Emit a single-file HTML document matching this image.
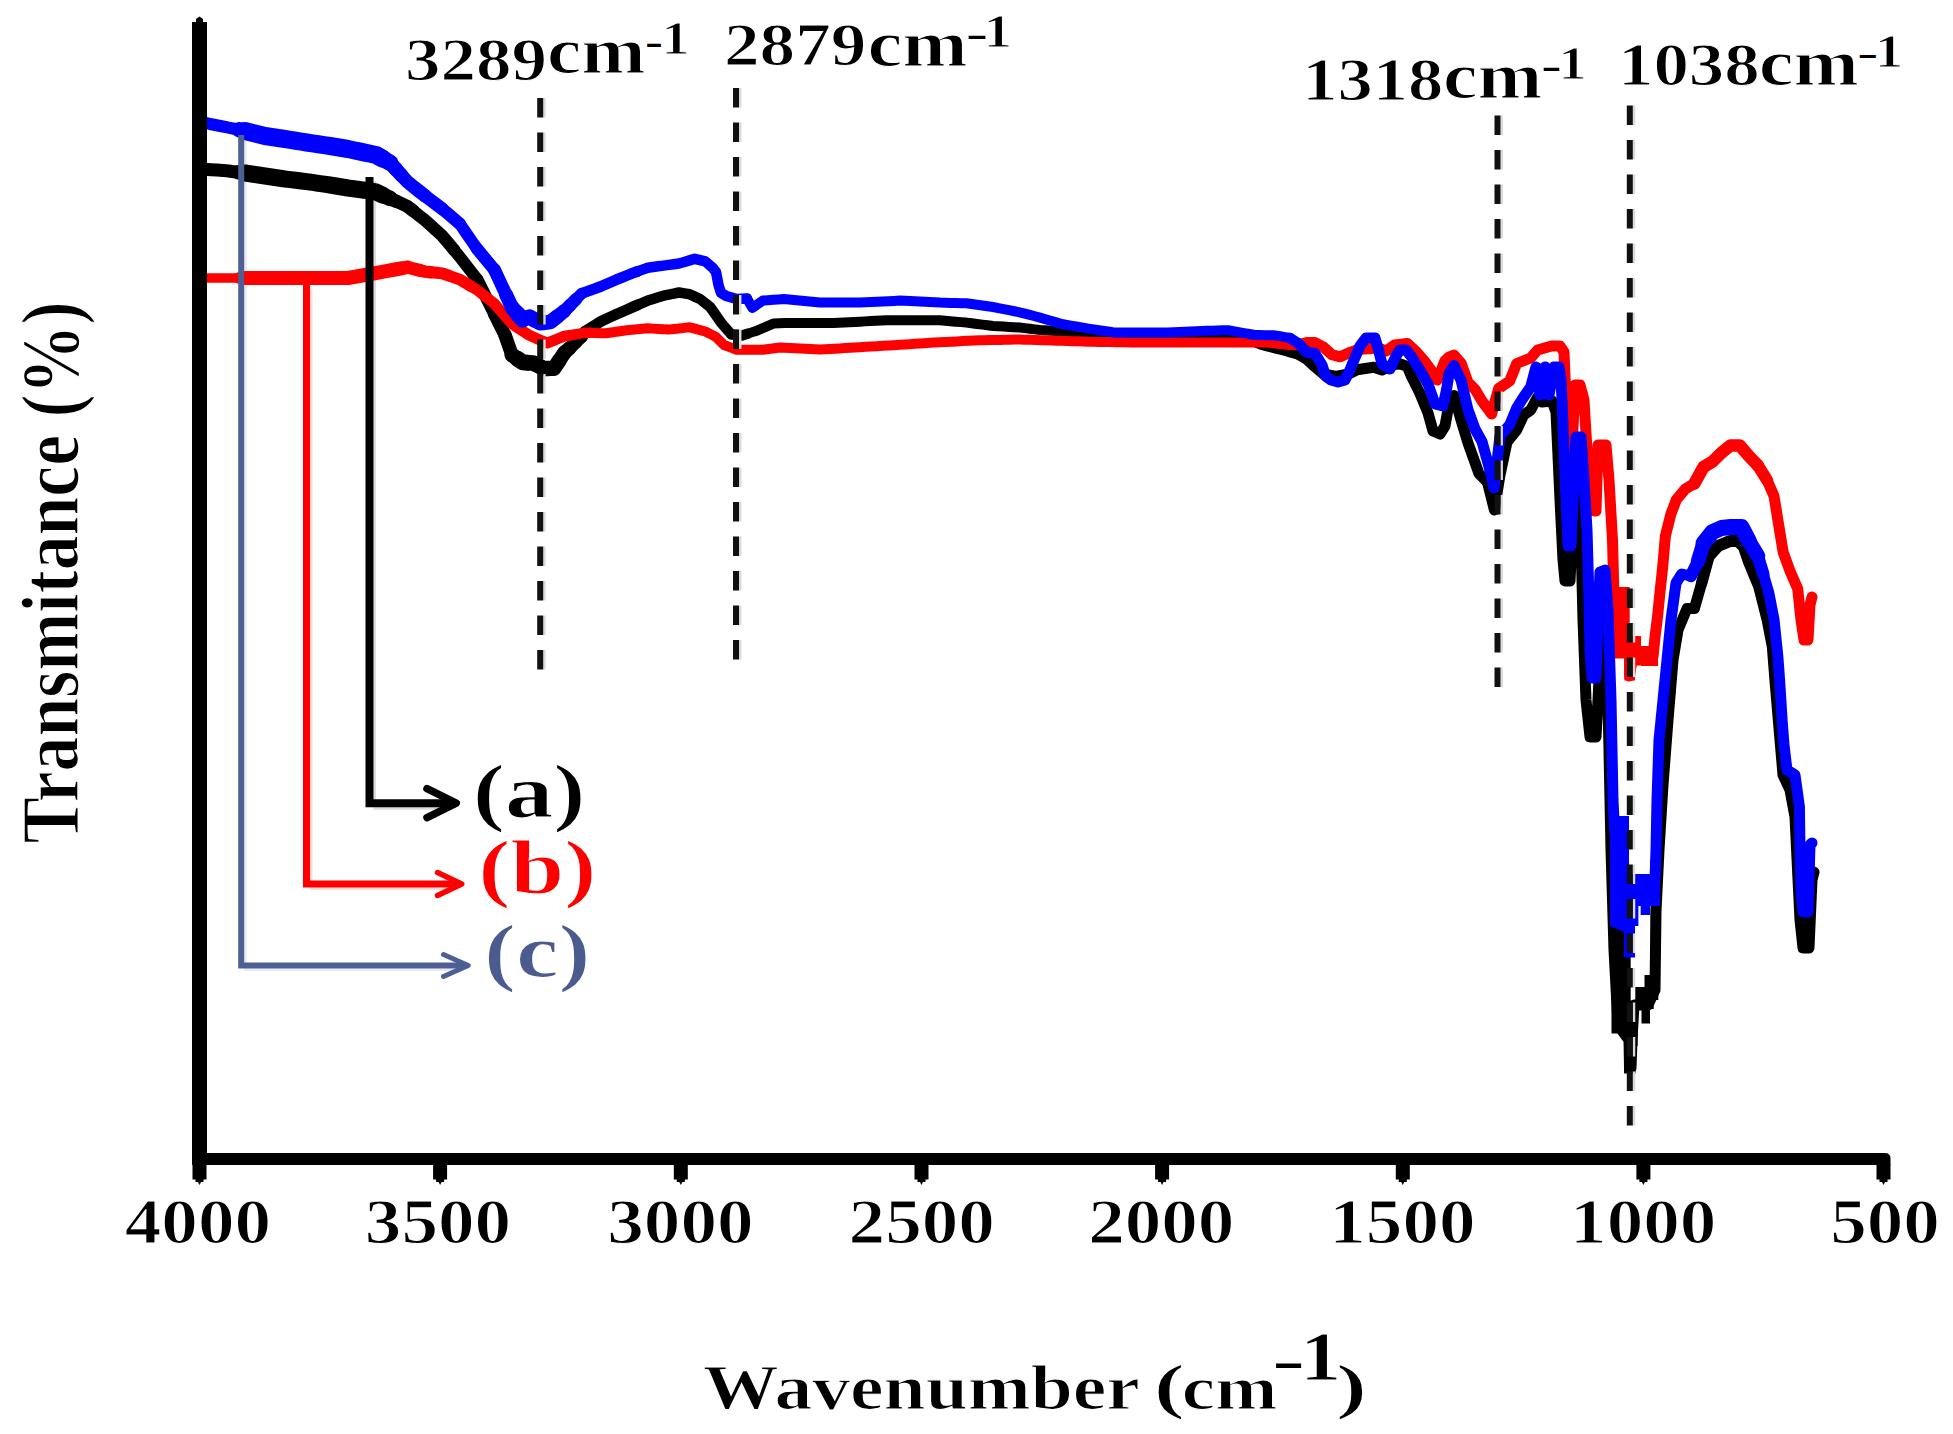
<!DOCTYPE html>
<html><head><meta charset="utf-8"><title>FTIR spectra</title>
<style>
html,body{margin:0;padding:0;background:#fff;}
body{width:1953px;height:1434px;overflow:hidden;}
svg{display:block;}
text{font-family:"Liberation Serif","Times New Roman",serif;font-weight:bold;font-size:100px;stroke:#fff;stroke-width:1.3px;vector-effect:non-scaling-stroke;}
</style></head><body>
<svg width="1953" height="1434" viewBox="0 0 1953 1434">
<rect width="1953" height="1434" fill="#fff"/>
<polyline fill="none" stroke="#dcdcdc" stroke-width="2.6" points="374.7,181.0 374.7,808.4 448.0,808.4"/>
<polyline fill="none" stroke="#ffd8d8" stroke-width="2.6" points="311.2,289.0 311.2,888.7 452.5,888.7"/>
<polyline fill="none" stroke="#e6e9f1" stroke-width="2.6" points="245.4,139.0 245.4,969.7 458.7,969.7"/>
<polyline fill="none" stroke="#000" stroke-width="13" stroke-linejoin="round" stroke-linecap="round" points="199,169 205,169.35 211,169.7 217,170.05 223,170.4 228.5,171.05 234,171.7 239.5,172.35"/>
<polyline fill="none" stroke="#000" stroke-width="15" stroke-linejoin="round" stroke-linecap="round" points="239.5,172.35 245,173"/>
<polyline fill="none" stroke="#000" stroke-width="17" stroke-linejoin="round" stroke-linecap="round" points="245,173 250,173.75 255,174.5 260,175.25 265,176 270,176.75 275,177.5 280,178.25 285,179 290.4,179.65 295.8,180.3 301.2,180.95 306.6,181.6 312.45,182.45 318.3,183.3 324.15,184.15 330,185 336,186 342,187 348,188 353.5,188.75 359,189.5 364.5,190.25 370,191 376,192 383,195.2"/>
<polyline fill="none" stroke="#000" stroke-width="15.5" stroke-linejoin="round" stroke-linecap="round" points="383,195.2 390,198.4"/>
<polyline fill="none" stroke="#000" stroke-width="13.5" stroke-linejoin="round" stroke-linecap="round" points="390,198.4 395.8,201.03"/>
<polyline fill="none" stroke="#000" stroke-width="13" stroke-linejoin="round" stroke-linecap="round" points="395.8,201.03 401.6,203.67 407.4,206.3 413.23,210.93"/>
<polyline fill="none" stroke="#000" stroke-width="12.5" stroke-linejoin="round" stroke-linecap="round" points="413.23,210.93 419.07,215.57 424.9,220.2 430.7,225.43 436.5,230.67 442.3,235.9 448.1,242.87 453.9,249.83"/>
<polyline fill="none" stroke="#000" stroke-width="12" stroke-linejoin="round" stroke-linecap="round" points="453.9,249.83 459.7,256.8 465.53,264.37 471.37,271.93 477.2,279.5"/>
<polyline fill="none" stroke="#000" stroke-width="12.5" stroke-linejoin="round" stroke-linecap="round" points="477.2,279.5 483,291.13 488.8,302.77 494.6,314.4"/>
<polyline fill="none" stroke="#000" stroke-width="13" stroke-linejoin="round" stroke-linecap="round" points="494.6,314.4 499.8,324.7 505,335"/>
<polyline fill="none" stroke="#000" stroke-width="13.5" stroke-linejoin="round" stroke-linecap="round" points="505,335 512,355"/>
<polyline fill="none" stroke="#000" stroke-width="15" stroke-linejoin="round" stroke-linecap="round" points="512,355 517.25,358.65"/>
<polyline fill="none" stroke="#000" stroke-width="16" stroke-linejoin="round" stroke-linecap="round" points="517.25,358.65 522.5,362.3 527.75,362.65"/>
<polyline fill="none" stroke="#000" stroke-width="15.5" stroke-linejoin="round" stroke-linecap="round" points="527.75,362.65 533,363 538.2,365.7 543.4,368.4 548.7,368.4"/>
<polyline fill="none" stroke="#000" stroke-width="15" stroke-linejoin="round" stroke-linecap="round" points="548.7,368.4 554,368.4 559.2,360.55"/>
<polyline fill="none" stroke="#000" stroke-width="14.5" stroke-linejoin="round" stroke-linecap="round" points="559.2,360.55 564.4,352.7"/>
<polyline fill="none" stroke="#000" stroke-width="14" stroke-linejoin="round" stroke-linecap="round" points="564.4,352.7 570.2,347.47"/>
<polyline fill="none" stroke="#000" stroke-width="13" stroke-linejoin="round" stroke-linecap="round" points="570.2,347.47 576,342.23"/>
<polyline fill="none" stroke="#000" stroke-width="12" stroke-linejoin="round" stroke-linecap="round" points="576,342.23 581.8,337"/>
<polyline fill="none" stroke="#000" stroke-width="11.5" stroke-linejoin="round" stroke-linecap="round" points="581.8,337 585,331.5"/>
<polyline fill="none" stroke="#000" stroke-width="11" stroke-linejoin="round" stroke-linecap="round" points="585,331.5 590.23,328.17 595.47,324.83 600.7,321.5 605.93,319.07 611.17,316.63 616.4,314.2 621.6,311.93 626.8,309.67 632,307.4 637.27,305.13"/>
<polyline fill="none" stroke="#000" stroke-width="10.5" stroke-linejoin="round" stroke-linecap="round" points="637.27,305.13 642.53,302.87 647.8,300.6 653.03,298.97 658.27,297.33 663.5,295.7 668.67,294.63 673.83,293.57 679,292.5 684.3,293.4 689.6,294.3 694.8,296.65 700,299 705.25,303.2 710.5,307.4 715.75,315 721,322.6 726.2,328.6 731.4,334.6 736.7,335.1 742,335.6 747.2,333.87"/>
<polyline fill="none" stroke="#000" stroke-width="10" stroke-linejoin="round" stroke-linecap="round" points="747.2,333.87 752.4,332.13 757.6,330.4 762.83,328.13 768.07,325.87 773.3,323.6 779.15,323.25 785,322.9 790.37,322.91 795.73,322.92 801.1,322.93 806.47,322.94 811.83,322.96 817.2,322.97 822.57,322.98 827.93,322.99 833.3,323 838.62,322.73 843.94,322.46 849.26,322.19 854.58,321.92 859.9,321.65 865.22,321.38 870.54,321.11 875.86,320.84 881.18,320.57 886.5,320.3 891.83,320.3 897.16,320.3 902.49,320.3 907.82,320.3 913.15,320.3 918.48,320.3 923.81,320.3 929.14,320.3 934.47,320.3 939.8,320.3 945.12,320.76 950.44,321.22 955.76,321.68 961.08,322.14 966.4,322.6 971.72,323.28 977.04,323.96 982.36,324.64 987.68,325.32 993,326 998.34,326.3 1003.68,326.6 1009.02,326.9 1014.36,327.2 1019.7,327.5 1024.78,328.12 1029.85,328.75 1034.92,329.38 1040,330 1045.4,330.32 1050.8,330.65 1056.2,330.98 1061.6,331.3 1066.94,331.84 1072.28,332.38 1077.62,332.92 1082.96,333.46 1088.3,334 1093.44,334.17 1098.58,334.33 1103.72,334.5 1108.87,334.67 1114.01,334.83 1119.15,335 1124.29,335.17 1129.43,335.33 1134.58,335.5 1139.72,335.67 1144.86,335.83 1150,336 1155,336.1 1160,336.2 1165,336.3 1170,336.4 1175,336.5 1180,336.6 1185,336.7 1190,336.8 1195,336.9 1200,337 1205,337.3 1210,337.6 1215,337.9 1220,338.2 1225,338.5 1230,338.8 1235,339.1 1240,339.4 1245,339.7 1250,340 1255.7,342.5 1261.4,345 1268.03,346.67 1274.67,348.33 1281.3,350 1290,352.2"/>
<polyline fill="none" stroke="#000" stroke-width="10.5" stroke-linejoin="round" stroke-linecap="round" points="1290,352.2 1298.4,354.3"/>
<polyline fill="none" stroke="#000" stroke-width="11" stroke-linejoin="round" stroke-linecap="round" points="1298.4,354.3 1306.7,359.3 1315,366.9 1323.5,374 1329.75,375.25 1336,376.5 1342.3,375.25 1348.6,374 1357,369.8 1365.3,368.5 1373.7,367.3 1382,370 1390,366 1398.8,363.5 1407.2,366.4 1411.3,376 1419.7,392.8 1428,413 1433,431 1440,434 1445,426 1449,403.7 1454,395.5 1461,420 1468,443 1473.5,458.3 1479,473.6 1487.4,482 1494.4,510 1500,475 1507,442 1516.7,430 1523.7,415 1530.7,410 1537.6,397 1542,402 1547,401.5 1552,401 1556,412 1560,500 1563,560 1565,581 1570,581 1573,520 1576,470 1579,480 1581,540 1583,620 1586,700 1590,737 1596,737 1598,700 1601,640 1604,625 1607,660 1609,750 1611,850 1614,950 1618,1025 1623.5,1032.5 1629,1040 1629.5,1068 1631,1068 1632,1040 1634,1005 1641,1005 1648,1005 1655,990 1656,911 1659,850 1663,785 1668,720 1673,660 1678,630 1687,608.5 1694.4,608.5 1701.6,583.2"/>
<polyline fill="none" stroke="#000" stroke-width="11.5" stroke-linejoin="round" stroke-linecap="round" points="1701.6,583.2 1709,556"/>
<polyline fill="none" stroke="#000" stroke-width="12" stroke-linejoin="round" stroke-linecap="round" points="1709,556 1718,546 1724,543.5 1730,541 1738,541 1744,547 1748.8,561.4 1757.8,583.2"/>
<polyline fill="none" stroke="#000" stroke-width="11" stroke-linejoin="round" stroke-linecap="round" points="1757.8,583.2 1767,619.4 1772.3,646.6 1775,681 1780,740 1783,775 1790,790 1795,817 1797.5,869 1800,920 1803,948 1809,948 1812,880 1814,872"/>
<polygon fill="#000" points="1609.5,860 1609.5,955 1611.5,955 1611.5,1033.5 1624,1033.5 1624,1073.5 1635.5,1073.5 1635.5,1046 1637.6,1046 1637.6,1009 1641.5,1009 1641.5,1023.5 1650,1023.5 1650,1009 1653.7,1009 1653.7,1000 1658.3,1000 1658.3,920 1660.8,920 1660.8,860 1650.7,860 1650.7,975 1644.5,975 1644.5,987 1635.3,987 1635.3,1001 1630.7,1001 1630.7,955 1629,860"/>
<polyline fill="none" stroke="#f00" stroke-width="9.5" stroke-linejoin="round" stroke-linecap="round" points="199,278 204.08,278 209.15,278 214.23,278 219.31,278 224.38,278 229.46,278 234.54,278 239.62,278"/>
<polyline fill="none" stroke="#f00" stroke-width="12" stroke-linejoin="round" stroke-linecap="round" points="239.62,278 244.69,278"/>
<polyline fill="none" stroke="#f00" stroke-width="14" stroke-linejoin="round" stroke-linecap="round" points="244.69,278 249.77,278 254.85,278 259.92,278 265,278 270.12,278 275.25,278 280.38,278 285.5,278 290.62,278 295.75,278 300.88,278 306,278 311.25,278 316.5,278 321.75,278 327,278 332.25,278 337.5,278 342.75,278 348,278 353.6,277 359.2,276 364.8,275 370.4,274 376,273 382.33,271.83 388.67,270.67 395,269.5 401.2,268.4"/>
<polyline fill="none" stroke="#f00" stroke-width="13.5" stroke-linejoin="round" stroke-linecap="round" points="401.2,268.4 407.4,267.3"/>
<polyline fill="none" stroke="#f00" stroke-width="13" stroke-linejoin="round" stroke-linecap="round" points="407.4,267.3 413.23,268.73 419.07,270.17"/>
<polyline fill="none" stroke="#f00" stroke-width="12.5" stroke-linejoin="round" stroke-linecap="round" points="419.07,270.17 424.9,271.6 430.7,272.2"/>
<polyline fill="none" stroke="#f00" stroke-width="12" stroke-linejoin="round" stroke-linecap="round" points="430.7,272.2 436.5,272.8 442.3,273.4 448.1,275.43"/>
<polyline fill="none" stroke="#f00" stroke-width="11.5" stroke-linejoin="round" stroke-linecap="round" points="448.1,275.43 453.9,277.47 459.7,279.5 465.53,283 471.37,286.5"/>
<polyline fill="none" stroke="#f00" stroke-width="11" stroke-linejoin="round" stroke-linecap="round" points="471.37,286.5 477.2,290 483,294.63 488.8,299.27 494.6,303.9 500.4,310.6 506.2,317.3 512,324 517.83,327.77 523.67,331.53 529.5,335.3 535.33,337.9 541.17,340.5 547,343.1 552.8,340.8 558.6,338.5 564.4,336.2 569.55,335.32"/>
<polyline fill="none" stroke="#f00" stroke-width="10.5" stroke-linejoin="round" stroke-linecap="round" points="569.55,335.32 574.7,334.45 579.85,333.57 585,332.7 590.25,332.85"/>
<polyline fill="none" stroke="#f00" stroke-width="10" stroke-linejoin="round" stroke-linecap="round" points="590.25,332.85 595.5,333 600.75,333.15 606,333.3 611.2,332.52 616.4,331.75 621.6,330.98 626.8,330.2 632.05,329.73 637.3,329.25 642.55,328.77 647.8,328.3 653.02,328.62 658.25,328.95 663.48,329.28 668.7,329.6 673.93,329.03 679.15,328.45 684.38,327.88 689.6,327.3 694.83,328.7 700.07,330.1 705.3,331.5 710.5,334.1 715.7,336.7 724,345 730.35,347.4 736.7,349.8 741.92,349.8 747.14,349.8 752.36,349.8 757.58,349.8 762.8,349.8 768.53,349.03 774.27,348.27 780,347.5 785,347.76 790,348.02 795,348.29 800,348.55 805,348.81 810,349.08 815,349.34 820,349.6 825,349.3 830,349 835,348.7 840,348.4 845,348.1 850,347.8 855,347.5 860,347.2 865.69,346.86 871.37,346.51 877.06,346.17 882.74,345.83 888.43,345.49 894.11,345.14 899.8,344.8 904.8,344.48 909.8,344.15 914.8,343.82 919.8,343.5 924.8,343.18 929.8,342.85 934.8,342.52 939.8,342.2 945.5,341.93 951.2,341.66 956.9,341.39 962.6,341.11 968.3,340.84 974,340.57 979.7,340.3 984.7,340.2 989.7,340.1 994.7,340 999.7,339.9 1004.7,339.8 1009.7,339.7 1014.7,339.6 1019.7,339.5 1024.98,339.67 1030.25,339.84 1035.53,340.01 1040.81,340.18 1046.08,340.35 1051.36,340.52 1056.64,340.68 1061.92,340.85 1067.19,341.02 1072.47,341.19 1077.75,341.36 1083.02,341.53 1088.3,341.7 1093.62,341.79 1098.94,341.88 1104.26,341.97 1109.58,342.06 1114.9,342.15 1120.22,342.24 1125.54,342.33 1130.86,342.42 1136.18,342.51 1141.5,342.6 1146.83,342.6 1152.16,342.6 1157.49,342.6 1162.82,342.6 1168.15,342.6 1173.48,342.6 1178.81,342.6 1184.14,342.6 1189.47,342.6 1194.8,342.6 1200.12,342.6 1205.44,342.6 1210.76,342.6 1216.08,342.6 1221.4,342.6 1226.72,342.6 1232.04,342.6 1237.36,342.6 1242.68,342.6 1248,342.6 1253,342.6 1258,342.6 1263,342.6 1268,342.6 1273,343.18 1278,343.75 1283,344.32 1288,344.9 1293,344.95"/>
<polyline fill="none" stroke="#f00" stroke-width="10.5" stroke-linejoin="round" stroke-linecap="round" points="1293,344.95 1298,345"/>
<polyline fill="none" stroke="#f00" stroke-width="11" stroke-linejoin="round" stroke-linecap="round" points="1298,345 1306.7,342.6 1315,342.6 1323.5,347.2 1331.8,354.7 1340.2,356.8 1348.6,353 1357,350 1365.3,348.9 1371.6,348.45 1377.9,348 1386.2,351 1394.6,345 1400.9,344.2 1407.2,343.4 1415.5,351 1424,360.6 1432.3,372 1437.3,380 1440.6,372 1444.8,361 1449,357 1454,355 1461,363 1468,382.3 1475,389.3 1482,401 1491.6,414 1498.6,388.6 1504.15,384.8 1509.7,381 1516.7,363.5 1523.7,360.75 1530.7,358 1537.6,350 1544.6,348 1551.6,346 1560,346 1564,352 1566,400 1569,450 1572,450 1575,385 1580,385 1584,400 1587,450 1590,510 1596,511 1598,445 1606,445 1609,480 1612.5,540 1614,598 1620,630 1629.5,650 1629.5,676 1632,660 1640,655 1646.5,656 1653,657 1655,637 1657.5,617 1660,592 1662.6,568 1665.4,536 1670.8,514.3 1676.3,499.8 1685.3,488.9 1694.4,483.5"/>
<polyline fill="none" stroke="#f00" stroke-width="12.5" stroke-linejoin="round" stroke-linecap="round" points="1694.4,483.5 1703.5,467 1712.5,461.7 1721.6,452.6 1730.6,445.4 1739.7,445.4 1748.8,456 1757.8,465.3"/>
<polyline fill="none" stroke="#f00" stroke-width="12" stroke-linejoin="round" stroke-linecap="round" points="1757.8,465.3 1767,480"/>
<polyline fill="none" stroke="#f00" stroke-width="11" stroke-linejoin="round" stroke-linecap="round" points="1767,480 1774,496 1777.8,519.7 1783.2,552.3 1790.5,572.3 1797.7,588.6 1801,620 1804,640 1808,640 1810,605 1812,597"/>
<polygon fill="#f00" points="1609.6,587 1629.7,587 1629.7,636 1641,636 1641,646 1658,646 1658,666 1641,666 1641,665.5 1635,665.5 1635,680.6 1624.3,680.6 1624.3,658.6 1612,658.6 1612,609 1609.6,609"/>
<polyline fill="none" stroke="#00f" stroke-width="12" stroke-linejoin="round" stroke-linecap="round" points="199,121 204.5,122.5 210,124 216.5,125.25 223,126.5 228.5,127.62 234,128.75 239.5,129.88"/>
<polyline fill="none" stroke="#00f" stroke-width="15.5" stroke-linejoin="round" stroke-linecap="round" points="239.5,129.88 245,131"/>
<polyline fill="none" stroke="#00f" stroke-width="18" stroke-linejoin="round" stroke-linecap="round" points="245,131 250,132.25 255,133.5 260,134.75 265,136 270,136.75 275,137.5 280,138.25 285,139 290.4,139.88 295.8,140.75 301.2,141.62 306.6,142.5 312.45,143.38 318.3,144.25 324.15,145.12 330,146 336,147 342,148 348,149 353.6,150.2 359.2,151.4 364.8,152.6 370.4,153.8 376,155 383,158.85"/>
<polyline fill="none" stroke="#00f" stroke-width="16.5" stroke-linejoin="round" stroke-linecap="round" points="383,158.85 390,162.7"/>
<polyline fill="none" stroke="#00f" stroke-width="14.5" stroke-linejoin="round" stroke-linecap="round" points="390,162.7 395.8,169.07"/>
<polyline fill="none" stroke="#00f" stroke-width="14" stroke-linejoin="round" stroke-linecap="round" points="395.8,169.07 401.6,175.43"/>
<polyline fill="none" stroke="#00f" stroke-width="13.5" stroke-linejoin="round" stroke-linecap="round" points="401.6,175.43 407.4,181.8 413.23,186.47 419.07,191.13 424.9,195.8"/>
<polyline fill="none" stroke="#00f" stroke-width="13" stroke-linejoin="round" stroke-linecap="round" points="424.9,195.8 430.7,200.17 436.5,204.53 442.3,208.9"/>
<polyline fill="none" stroke="#00f" stroke-width="12.5" stroke-linejoin="round" stroke-linecap="round" points="442.3,208.9 448.1,213.83 453.9,218.77 459.7,223.7"/>
<polyline fill="none" stroke="#00f" stroke-width="12" stroke-linejoin="round" stroke-linecap="round" points="459.7,223.7 465.53,232.13 471.37,240.57 477.2,249"/>
<polyline fill="none" stroke="#00f" stroke-width="12.5" stroke-linejoin="round" stroke-linecap="round" points="477.2,249 483,255.97 488.8,262.93 494.6,269.9"/>
<polyline fill="none" stroke="#00f" stroke-width="13" stroke-linejoin="round" stroke-linecap="round" points="494.6,269.9 500.4,282.4 506.2,294.9"/>
<polyline fill="none" stroke="#00f" stroke-width="14" stroke-linejoin="round" stroke-linecap="round" points="506.2,294.9 512,307.4"/>
<polyline fill="none" stroke="#00f" stroke-width="15" stroke-linejoin="round" stroke-linecap="round" points="512,307.4 517.25,313.5"/>
<polyline fill="none" stroke="#00f" stroke-width="16" stroke-linejoin="round" stroke-linecap="round" points="517.25,313.5 522.5,319.6"/>
<polyline fill="none" stroke="#00f" stroke-width="15.5" stroke-linejoin="round" stroke-linecap="round" points="522.5,319.6 529.5,317 534.75,320"/>
<polyline fill="none" stroke="#00f" stroke-width="15" stroke-linejoin="round" stroke-linecap="round" points="534.75,320 540,323 545.2,322.5"/>
<polyline fill="none" stroke="#00f" stroke-width="14.5" stroke-linejoin="round" stroke-linecap="round" points="545.2,322.5 550.4,322 557.4,316.5"/>
<polyline fill="none" stroke="#00f" stroke-width="14" stroke-linejoin="round" stroke-linecap="round" points="557.4,316.5 564.4,311"/>
<polyline fill="none" stroke="#00f" stroke-width="13" stroke-linejoin="round" stroke-linecap="round" points="564.4,311 570.2,305.13"/>
<polyline fill="none" stroke="#00f" stroke-width="12.5" stroke-linejoin="round" stroke-linecap="round" points="570.2,305.13 576,299.27"/>
<polyline fill="none" stroke="#00f" stroke-width="11.5" stroke-linejoin="round" stroke-linecap="round" points="576,299.27 581.8,293.4"/>
<polyline fill="none" stroke="#00f" stroke-width="11" stroke-linejoin="round" stroke-linecap="round" points="581.8,293.4 588.1,291.1 594.4,288.8 600.7,286.5 605.93,284.23 611.17,281.97 616.4,279.7 621.6,277.6 626.8,275.5 632,273.4 637.27,271.5"/>
<polyline fill="none" stroke="#00f" stroke-width="10.5" stroke-linejoin="round" stroke-linecap="round" points="637.27,271.5 642.53,269.6 647.8,267.7 653.03,267 658.27,266.3 663.5,265.6 668.67,264.9 673.83,264.2 679,263.5 684.27,261.93 689.53,260.37 694.8,258.8 700.05,260.1 705.3,261.4 712.6,267.7 716,272 718.5,285 721,292.8 726.2,296 731.45,297.5 736.7,299 741.85,298.75 747,298.5"/>
<polyline fill="none" stroke="#00f" stroke-width="10" stroke-linejoin="round" stroke-linecap="round" points="747,298.5 752.4,308 757.6,304.3 762.8,300.6 768.02,300.2 773.25,299.8 778.48,299.4 783.7,299 788.89,299.51 794.07,300.03 799.26,300.54 804.44,301.06 809.63,301.57 814.81,302.09 820,302.6 825,302.6 830,302.6 835,302.6 840,302.6 845,302.6 850,302.6 855,302.6 860,302.6 865.69,302.31 871.37,302.03 877.06,301.74 882.74,301.46 888.43,301.17 894.11,300.89 899.8,300.6 904.8,300.85 909.8,301.1 914.8,301.35 919.8,301.6 924.8,301.85 929.8,302.1 934.8,302.35 939.8,302.6 945.12,302.74 950.44,302.88 955.76,303.02 961.08,303.16 966.4,303.3 971.72,304.04 977.04,304.78 982.36,305.52 987.68,306.26 993,307 998.34,308.06 1003.68,309.12 1009.02,310.18 1014.36,311.24 1019.7,312.3 1024.78,313.62 1029.85,314.95 1034.92,316.28 1040,317.6 1045.4,319.2 1050.8,320.8 1056.2,322.4 1061.6,324 1066.94,324.92 1072.28,325.84 1077.62,326.76 1082.96,327.68 1088.3,328.6 1093.64,329.4 1098.98,330.2 1104.32,331 1109.66,331.8 1115,332.6 1120.3,332.6 1125.6,332.6 1130.9,332.6 1136.2,332.6 1141.5,332.6 1146.8,332.6 1152.1,332.6 1157.4,332.6 1162.7,332.6 1168,332.6 1173.57,332.33 1179.13,332.07 1184.7,331.8 1190.27,331.53 1195.83,331.27 1201.4,331 1206.72,330.84 1212.04,330.68 1217.36,330.52 1222.68,330.36 1228,330.2 1233.34,331.16 1238.68,332.12 1244.02,333.08 1249.36,334.04 1254.7,335 1259.7,335.07 1264.7,335.15 1269.7,335.23 1274.7,335.3 1279.8,336.2 1284.9,337.1 1290,338"/>
<polyline fill="none" stroke="#00f" stroke-width="10.5" stroke-linejoin="round" stroke-linecap="round" points="1290,338 1298.4,343.4"/>
<polyline fill="none" stroke="#00f" stroke-width="11" stroke-linejoin="round" stroke-linecap="round" points="1298.4,343.4 1306.7,352.2 1315,353.5 1322,365 1325.5,376 1331,380 1338,382 1345,380 1349,372 1354,360 1360,346 1366,338 1375,338 1378,348 1382,364 1390,369 1396,356 1400,350 1406,350 1411.3,356.4 1419.7,369.8 1428,384 1435,404 1443,406 1446.5,390 1449,373.6 1454,365.6 1461,380 1468,410 1475,429 1482,441.6 1489,466.7 1494,488 1500,436 1509.7,424.8 1516.7,408 1523.7,397 1530.7,387 1536,367 1540,395 1545,367 1549,395 1554,367 1559,367 1561,380 1562,400 1564,450 1566,500 1568,546 1571,546 1574,480 1576,437 1581,437 1584,480 1587,530 1589,600 1590,650 1592,678 1596,678 1598,620 1600,572 1605,570 1608,610 1611,700 1613,800 1614,820 1620,900 1625,898 1630,896 1635,894 1640,892 1645,890 1650,885 1655,880 1656,850 1657,800 1659,740 1662,710 1664,690 1667,660 1671,620 1676,583 1681.7,574 1690.8,576"/>
<polyline fill="none" stroke="#00f" stroke-width="12.5" stroke-linejoin="round" stroke-linecap="round" points="1690.8,576 1698,561.4"/>
<polyline fill="none" stroke="#00f" stroke-width="14.5" stroke-linejoin="round" stroke-linecap="round" points="1698,561.4 1703.5,543.3"/>
<polyline fill="none" stroke="#00f" stroke-width="16" stroke-linejoin="round" stroke-linecap="round" points="1703.5,543.3 1712.5,532 1721.6,528 1730.6,527 1736.05,527 1741.5,527 1748.8,541"/>
<polyline fill="none" stroke="#00f" stroke-width="15" stroke-linejoin="round" stroke-linecap="round" points="1748.8,541 1757.8,556"/>
<polyline fill="none" stroke="#00f" stroke-width="12.5" stroke-linejoin="round" stroke-linecap="round" points="1757.8,556 1763.3,574"/>
<polyline fill="none" stroke="#00f" stroke-width="11" stroke-linejoin="round" stroke-linecap="round" points="1763.3,574 1768.7,592.2 1774,619.4 1777.8,655.7 1779.6,680 1782.3,722.8 1784,745 1787,770 1795,775 1799.4,806.5 1800,850 1801,890 1803,912 1808,912 1810,845 1812,843"/>
<polygon fill="#00f" points="1610,816 1610,926 1621.5,931 1624,931 1624,957.5 1635,957.5 1635,926 1638.4,926 1638.4,906 1640.7,906 1640.7,915 1650,915 1650,906 1660,906 1660,860 1650,860 1650,874 1629,874 1629,816"/>
<g stroke="#dadada" stroke-width="2.5" stroke-dasharray="19.5 15" fill="none">
<line x1="544.4000000000001" y1="98.1" x2="544.4000000000001" y2="671"/>
<line x1="740.2" y1="88" x2="740.2" y2="661"/>
<line x1="1501.7" y1="115.5" x2="1501.7" y2="688"/>
<line x1="1634.0" y1="105.6" x2="1634.0" y2="1126"/>
</g>
<g stroke="#111" stroke-width="6" stroke-dasharray="19.5 15" fill="none">
<line x1="540.2" y1="98.1" x2="540.2" y2="671"/>
<line x1="736" y1="88" x2="736" y2="661"/>
<line x1="1497.5" y1="115.5" x2="1497.5" y2="688"/>
<line x1="1629.8" y1="105.6" x2="1629.8" y2="1126"/>
</g>
<g fill="none"><polyline stroke="#000" stroke-width="8" stroke-linejoin="miter" points="369.5,177 369.5,803.2 456,803.2"/><polyline stroke="#000" stroke-width="7.5" stroke-linecap="round" stroke-linejoin="round" points="427,788.7 456.25,803.2 427,817.7"/></g>
<g fill="none"><polyline stroke="#f00" stroke-width="7" stroke-linejoin="miter" points="306.5,285 306.5,884 460.5,884"/><polyline stroke="#f00" stroke-width="5.5" stroke-linecap="round" stroke-linejoin="round" points="437.5,872.5 461.75,884 437.5,895.5"/></g>
<g fill="none"><polyline stroke="#4e5f93" stroke-width="6" stroke-linejoin="miter" points="241.2,135 241.2,965.5 466.7,965.5"/><polyline stroke="#4e5f93" stroke-width="5" stroke-linecap="round" stroke-linejoin="round" points="443.5,954.5 468.2,965.5 443.5,976.5"/></g>
<g fill="#000">
<path d="M192,22 L196,22 L196,19 L199.5,16.4 L203,19 L203,22 L207,22 L207,1153 L1885,1153 Q1890.5,1153 1890.5,1158.5 L1890.5,1165 L192,1165 Z"/>
<path d="M192.5,1164 L206.5,1164 L206.5,1179.6 L203.5,1179.6 L203.5,1182 L201.0,1182 L199.5,1185 L198.0,1182 L195.5,1182 L195.5,1179.6 L192.5,1179.6 Z"/>
<path d="M433.1,1164 L447.1,1164 L447.1,1179.6 L444.1,1179.6 L444.1,1182 L441.6,1182 L440.1,1185 L438.6,1182 L436.1,1182 L436.1,1179.6 L433.1,1179.6 Z"/>
<path d="M673.8,1164 L687.8,1164 L687.8,1179.6 L684.8,1179.6 L684.8,1182 L682.3,1182 L680.8,1185 L679.3,1182 L676.8,1182 L676.8,1179.6 L673.8,1179.6 Z"/>
<path d="M914.5,1164 L928.5,1164 L928.5,1179.6 L925.5,1179.6 L925.5,1182 L923.0,1182 L921.5,1185 L920.0,1182 L917.5,1182 L917.5,1179.6 L914.5,1179.6 Z"/>
<path d="M1155.1,1164 L1169.1,1164 L1169.1,1179.6 L1166.1,1179.6 L1166.1,1182 L1163.6,1182 L1162.1,1185 L1160.6,1182 L1158.1,1182 L1158.1,1179.6 L1155.1,1179.6 Z"/>
<path d="M1395.8,1164 L1409.8,1164 L1409.8,1179.6 L1406.8,1179.6 L1406.8,1182 L1404.2,1182 L1402.8,1185 L1401.2,1182 L1398.8,1182 L1398.8,1179.6 L1395.8,1179.6 Z"/>
<path d="M1636.4,1164 L1650.4,1164 L1650.4,1179.6 L1647.4,1179.6 L1647.4,1182 L1644.9,1182 L1643.4,1185 L1641.9,1182 L1639.4,1182 L1639.4,1179.6 L1636.4,1179.6 Z"/>
<path d="M1876.5,1164 L1890.5,1164 L1890.5,1179.6 L1887.5,1179.6 L1887.5,1182 L1885.0,1182 L1883.5,1185 L1882.0,1182 L1879.5,1182 L1879.5,1179.6 L1876.5,1179.6 Z"/>
</g>
<text transform="matrix(0.73128 0 0 0.63881 124.77 1243.12)" fill="#000">4000</text>
<text transform="matrix(0.73128 0 0 0.63881 364.87 1243.12)" fill="#000">3500</text>
<text transform="matrix(0.73128 0 0 0.63881 607.27 1243.12)" fill="#000">3000</text>
<text transform="matrix(0.73128 0 0 0.63881 848.57 1243.12)" fill="#000">2500</text>
<text transform="matrix(0.73128 0 0 0.63881 1088.17 1243.12)" fill="#000">2000</text>
<text transform="matrix(0.73128 0 0 0.62941 1329.31 1243.14)" fill="#000">1500</text>
<text transform="matrix(0.73128 0 0 0.62941 1570.11 1243.14)" fill="#000">1000</text>
<text transform="matrix(0.73128 0 0 0.63881 1830.15 1243.12)" fill="#000">500</text>
<text transform="matrix(0.71042 0 0 0.60299 404.96 79.69)" fill="#000">3289</text>
<text transform="matrix(0.77154 0 0 0.65000 546.89 73.35)" fill="#000">cm</text>
<text transform="matrix(0.52692 0 0 0.38750 645.19 53.86)" fill="#000" style="stroke:none">-</text>
<text transform="matrix(0.57297 0 0 0.46061 661.32 54.00)" fill="#000">1</text>
<text transform="matrix(0.71198 0 0 0.61493 723.95 65.07)" fill="#000">2879</text>
<text transform="matrix(0.78455 0 0 0.65000 867.55 65.65)" fill="#000">cm</text>
<text transform="matrix(0.64615 0 0 0.38750 966.32 46.16)" fill="#000" style="stroke:none">-</text>
<text transform="matrix(0.57297 0 0 0.47273 983.62 47.10)" fill="#000">1</text>
<text transform="matrix(0.70582 0 0 0.60588 1302.15 99.69)" fill="#000">1318</text>
<text transform="matrix(0.77805 0 0 0.65000 1442.97 97.95)" fill="#000">cm</text>
<text transform="matrix(0.60000 0 0 0.38750 1541.60 78.46)" fill="#000" style="stroke:none">-</text>
<text transform="matrix(0.57297 0 0 0.46061 1558.22 78.60)" fill="#000">1</text>
<text transform="matrix(0.70952 0 0 0.60588 1617.92 84.69)" fill="#000">1038</text>
<text transform="matrix(0.78374 0 0 0.65000 1758.75 85.25)" fill="#000">cm</text>
<text transform="matrix(0.61538 0 0 0.35000 1857.54 65.05)" fill="#000" style="stroke:none">-</text>
<text transform="matrix(0.57297 0 0 0.47121 1874.82 66.60)" fill="#000">1</text>
<text transform="matrix(0 -0.69637 0.83000 0 77.97 843.59)" fill="#000">Transmitance (%)</text>
<text transform="matrix(0.75635 0 0 0.64366 702.94 1409.01)" fill="#000">Wavenumber</text>
<text transform="matrix(0.93077 0 0 0.61111 1153.68 1406.77)" fill="#000">(</text>
<text transform="matrix(0.74959 0 0 0.62292 1181.75 1408.88)" fill="#000">cm</text>
<text transform="matrix(0.96538 0 0 0.53750 1272.44 1377.51)" fill="#000" style="stroke:none">-</text>
<text transform="matrix(0.82703 0 0 0.69242 1299.98 1380.10)" fill="#000">1</text>
<text transform="matrix(0.93077 0 0 0.61111 1336.01 1406.77)" fill="#000">)</text>
<text transform="matrix(0.96667 0 0 0.75778 472.83 816.69)" fill="#000">(a)</text>
<text transform="matrix(0.96579 0 0 0.75667 478.34 892.61)" fill="#f00">(b)</text>
<text transform="matrix(0.95825 0 0 0.75556 484.07 976.53)" fill="#4b5b8f">(c)</text>
</svg></body></html>
